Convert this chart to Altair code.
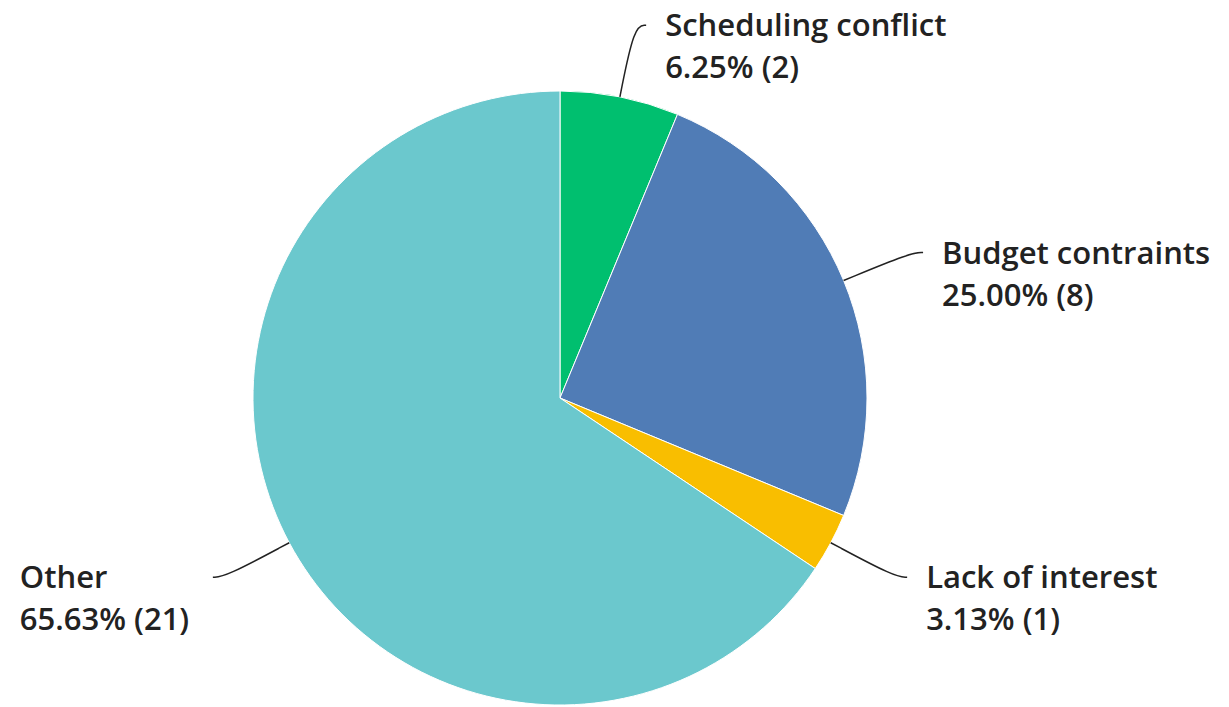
import math
import altair as alt
import pandas as pd

categories = ["Scheduling conflict", "Budget contraints", "Lack of interest", "Other"]
counts = [2, 8, 1, 21]
percent_labels = ["6.25%", "25.00%", "3.13%", "65.63%"]
colors = ["#00BF6F", "#507CB6", "#F9BE00", "#6BC8CD"]

W, H = 1229, 707
CX, CY, R = 560, 398, 307

pie_df = pd.DataFrame({
    "category": categories,
    "count": counts,
    "idx": list(range(len(categories))),
})

# derive leader-line and label anchors from the slice mid-angles
total = sum(counts)
line_rows, label_rows = [], []
cum = 0
for i, (cat, c, p) in enumerate(zip(categories, counts, percent_labels)):
    mid = (cum + c / 2) / total * 2 * math.pi
    cum += c
    s, co = math.sin(mid), math.cos(mid)
    ax, ay = CX + R * s, CY - R * co
    bx, by = CX + 380 * s, CY - 380 * co
    side = 1 if s >= 0 else -1
    cx_, cy_ = bx + side * 12, by
    for k, (x, y) in enumerate([(ax, ay), (bx, by), (cx_, cy_)]):
        line_rows.append({"category": cat, "k": k, "x": x, "y": y})
    tx = cx_ + 19 if side > 0 else cx_ - 193
    label_rows.append({"category": cat, "x": tx, "y": cy_ + 11,
                       "label": f"{cat}\n{p} ({c})"})

line_df = pd.DataFrame(line_rows)
label_df = pd.DataFrame(label_rows)

xs = alt.Scale(domain=[0, W], nice=False, zero=False)
ys = alt.Scale(domain=[0, H], nice=False, zero=False, reverse=True)

pie = alt.Chart(pie_df).mark_arc(outerRadius=R, stroke="white", strokeWidth=1).encode(
    theta=alt.Theta("count:Q", stack=True),
    order=alt.Order("idx:Q"),
    color=alt.Color("category:N", scale=alt.Scale(domain=categories, range=colors), legend=None),
    x=alt.value(CX),
    y=alt.value(CY),
)

lines = alt.Chart(line_df).mark_line(color="#222222", strokeWidth=1.5, interpolate="basis").encode(
    x=alt.X("x:Q", scale=xs, axis=None),
    y=alt.Y("y:Q", scale=ys, axis=None),
    detail="category:N",
    order="k:Q",
)

labels = alt.Chart(label_df).mark_text(
    align="left", baseline="alphabetic", lineBreak="\n", lineHeight=42,
    font="Open Sans", fontSize=31, fontWeight=600, color="#222222",
).encode(
    x=alt.X("x:Q", scale=xs, axis=None),
    y=alt.Y("y:Q", scale=ys, axis=None),
    text="label:N",
)

chart = alt.layer(pie, lines, labels).properties(
    width=W, height=H, padding=0, autosize=alt.AutoSizeParams(type="none"),
    background="white",
).configure_view(stroke=None)

chart.save("out.html", embed_options={"renderer": "svg", "actions": False})
